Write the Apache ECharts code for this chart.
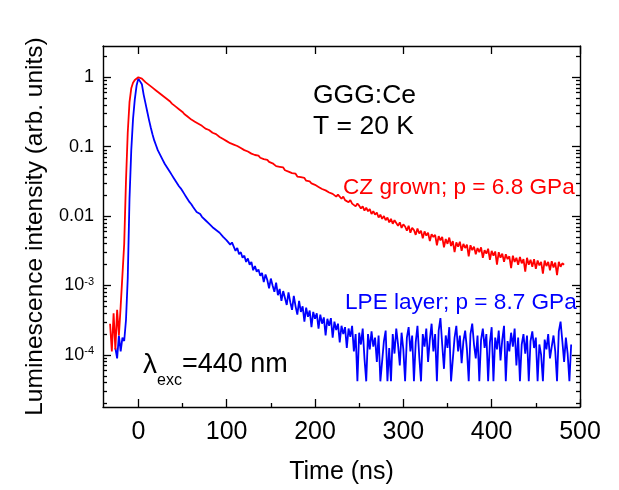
<!DOCTYPE html>
<html><head><meta charset="utf-8">
<script src="https://cdn.jsdelivr.net/npm/echarts@6/dist/echarts.min.js"></script>
<style>html,body{margin:0;padding:0;background:#fff}#c{width:619px;height:490px}</style>
</head><body><div id="c"></div>
<script>
// Time axis of the measurement (ns)
const timeNs = [
-32,-30,-28,-26,-24,-22,-20,-18,-16,-14,
-12,-10,-8,-6,-4,-2,0,2,4,6,
8,10,12,14,16,18,20,22,24,26,
28,30,32,34,36,38,40,42,44,46,
48,50,52,54,56,58,60,62,64,66,
68,70,72,74,76,78,80,82,84,86,
88,90,92,94,96,98,100,102,104,106,
108,110,112,114,116,118,120,122,124,126,
128,130,132,134,136,138,140,142,144,146,
148,150,152,154,156,158,160,162,164,166,
168,170,172,174,176,178,180,182,184,186,
188,190,192,194,196,198,200,202,204,206,
208,210,212,214,216,218,220,222,224,226,
228,230,232,234,236,238,240,242,244,246,
248,250,252,254,256,258,260,262,264,266,
268,270,272,274,276,278,280,282,284,286,
288,290,292,294,296,298,300,302,304,306,
308,310,312,314,316,318,320,322,324,326,
328,330,332,334,336,338,340,342,344,346,
348,350,352,354,356,358,360,362,364,366,
368,370,372,374,376,378,380,382,384,386,
388,390,392,394,396,398,400,402,404,406,
408,410,412,414,416,418,420,422,424,426,
428,430,432,434,436,438,440,442,444,446,
448,450,452,454,456,458,460,462,464,466,
468,470,472,474,476,478,480,482,484,486,488,490
];
// log10 of the normalised intensity (CZ grown crystal, red)
const czGrownLog10 = [
-3.55,-3.95,-3.40,-3.92,-3.35,-3.72,-3.30,-3.32,-2.40,-1.50,
-0.80,-0.36,-0.16,-0.08,-0.04,-0.02,0,0,-0.02,-0.04,
-0.07,-0.09,-0.11,-0.12,-0.15,-0.17,-0.19,-0.21,-0.23,-0.25,
-0.27,-0.29,-0.31,-0.33,-0.35,-0.38,-0.39,-0.42,-0.44,-0.46,
-0.48,-0.50,-0.53,-0.54,-0.57,-0.59,-0.61,-0.62,-0.64,-0.66,
-0.67,-0.69,-0.70,-0.72,-0.74,-0.75,-0.76,-0.78,-0.80,-0.81,
-0.82,-0.84,-0.86,-0.87,-0.89,-0.90,-0.92,-0.92,-0.95,-0.95,
-0.97,-0.98,-0.99,-1.00,-1.02,-1.02,-1.05,-1.05,-1.07,-1.07,
-1.10,-1.09,-1.12,-1.13,-1.13,-1.16,-1.16,-1.18,-1.20,-1.19,
-1.22,-1.23,-1.24,-1.24,-1.28,-1.27,-1.29,-1.31,-1.30,-1.34,
-1.33,-1.36,-1.35,-1.38,-1.40,-1.39,-1.43,-1.42,-1.44,-1.46,
-1.45,-1.49,-1.48,-1.50,-1.53,-1.51,-1.55,-1.54,-1.58,-1.56,
-1.61,-1.59,-1.63,-1.61,-1.66,-1.64,-1.68,-1.66,-1.72,-1.69,
-1.71,-1.75,-1.72,-1.77,-1.75,-1.80,-1.77,-1.82,-1.80,-1.86,
-1.82,-1.85,-1.89,-1.86,-1.92,-1.88,-1.93,-1.90,-1.97,-1.93,
-1.98,-1.95,-2.02,-1.98,-2.04,-2.00,-2.06,-2.02,-2.09,-2.04,
-2.11,-2.06,-2.08,-2.14,-2.09,-2.17,-2.12,-2.15,-2.21,-2.14,
-2.24,-2.17,-2.20,-2.27,-2.18,-2.25,-2.21,-2.32,-2.22,-2.28,
-2.24,-2.36,-2.26,-2.30,-2.27,-2.42,-2.29,-2.35,-2.30,-2.45,
-2.33,-2.40,-2.31,-2.43,-2.36,-2.52,-2.38,-2.44,-2.37,-2.50,
-2.40,-2.46,-2.41,-2.58,-2.42,-2.49,-2.44,-2.55,-2.46,-2.52,
-2.45,-2.60,-2.49,-2.54,-2.47,-2.63,-2.50,-2.57,-2.51,-2.70,
-2.52,-2.60,-2.54,-2.66,-2.55,-2.62,-2.58,-2.75,-2.57,-2.66,
-2.60,-2.70,-2.59,-2.68,-2.62,-2.80,-2.60,-2.70,-2.63,-2.73,
-2.62,-2.76,-2.64,-2.71,-2.66,-2.83,-2.64,-2.72,-2.66,-2.78,
-2.65,-2.74,-2.67,-2.85,-2.66,-2.73,-2.68,-2.70,null,null,null,null
];
// log10 of the normalised intensity (LPE layer, blue)
const lpeLayerLog10 = [
null,null,null,-3.90,-4.05,-3.72,-3.95,-3.75,-3.80,-3.50,
-2.90,-1.75,-1.05,-0.60,-0.32,-0.12,-0.02,0,-0.10,-0.25,
-0.37,-0.49,-0.61,-0.72,-0.82,-0.91,-0.98,-1.05,-1.10,-1.15,
-1.20,-1.25,-1.29,-1.33,-1.37,-1.41,-1.45,-1.49,-1.53,-1.57,
-1.60,-1.64,-1.68,-1.72,-1.76,-1.80,-1.83,-1.87,-1.89,-1.94,
-1.96,-1.97,-2.01,-2.02,-2.06,-2.07,-2.11,-2.10,-2.16,-2.15,
-2.20,-2.21,-2.24,-2.25,-2.30,-2.29,-2.35,-2.33,-2.41,-2.38,
-2.44,-2.50,-2.46,-2.55,-2.52,-2.60,-2.57,-2.66,-2.61,-2.70,
-2.66,-2.78,-2.72,-2.80,-2.77,-2.86,-2.82,-2.95,-2.84,-2.92,
-3.04,-2.90,-3.00,-3.09,-2.96,-3.14,-3.05,-3.22,-3.08,-3.18,
-3.28,-3.10,-3.24,-3.35,-3.15,-3.30,-3.42,-3.22,-3.38,-3.30,
-3.52,-3.32,-3.45,-3.36,-3.60,-3.38,-3.48,-3.40,-3.62,-3.42,
-3.55,-3.46,-3.72,-3.48,-3.58,-3.47,-3.75,-3.52,-3.64,-3.55,
-3.82,-3.58,-3.70,-3.60,-3.90,-3.62,-3.74,-3.58,-3.95,-3.70,
-4.38,-3.68,-3.85,-3.62,-4.05,-4.38,-3.70,-3.92,-3.66,-3.88,
-3.75,-4.10,-3.72,-4.38,-4.38,-3.80,-3.65,-4.38,-3.90,-4.38,
-3.70,-3.98,-3.62,-3.85,-4.15,-3.68,-3.92,-4.38,-3.75,-3.60,
-3.95,-3.72,-4.38,-3.82,-3.58,-4.02,-4.38,-3.70,-3.88,-3.62,
-4.10,-3.78,-3.55,-3.95,-3.70,-4.38,-3.65,-3.47,-3.85,-4.20,
-3.72,-3.90,-3.60,-4.38,-4.38,-3.75,-3.58,-3.95,-3.72,-4.12,
-3.80,-3.65,-3.92,-4.38,-3.70,-3.55,-3.85,-4.05,-3.72,-4.38,
-3.78,-3.62,-3.90,-3.70,-4.38,-3.82,-3.60,-4.38,-3.75,-3.92,
-3.65,-4.08,-3.78,-3.58,-4.38,-3.80,-3.95,-3.68,-3.88,-3.62,
-4.15,-3.75,-4.38,-3.85,-3.70,-3.98,-3.72,-4.38,-3.80,-3.66,
-3.90,-3.75,-4.38,-3.85,-4.00,-4.38,-3.78,-3.92,-3.70,-4.05,
-3.88,-3.72,-3.95,-4.38,-3.66,-3.52,-3.80,-4.10,-3.75,-3.98,-4.38,-3.85
];
const xMajorTicks = [0, 100, 200, 300, 400, 500];
const xMinorTicks = [50, 150, 250, 350, 450];
const yMajorTicks = [1e-4, 1e-3, 0.01, 0.1, 1];
const yTickLabels = ['10{sup|-4}', '10{sup|-3}', '0.01', '0.1', '1'];

const X_MIN = -40, X_MAX = 500;
const Y_MIN = Math.pow(10, -4.75), Y_MAX = Math.pow(10, 0.45);
const yMinorTicks = [];
for (let n = -5; n <= 0; n++) for (let k = 2; k <= 9; k++) {
  const v = k * Math.pow(10, n);
  if (v > Y_MIN && v < Y_MAX) yMinorTicks.push(v);
}
const FONT = '"Liberation Sans", Arial, Helvetica, sans-serif';
const LINE = {color: '#000', width: 1.4};
const TICK = {color: '#000', width: 1.3};

function toData(logs) {
  return timeNs.map((t, i) => [t, logs[i] == null ? '-' : Math.pow(10, logs[i])]);
}
function yLabel(v) {
  for (let i = 0; i < yMajorTicks.length; i++) {
    if (Math.abs(Math.log10(v) - Math.log10(yMajorTicks[i])) < 1e-6) return yTickLabels[i];
  }
  return '';
}
function xAx(pos, ticks, len, extra) {
  return Object.assign({
    type: 'value', min: X_MIN, max: X_MAX, position: pos,
    axisLine: {show: false, onZero: false},
    axisTick: {show: true, inside: true, length: len, customValues: ticks, lineStyle: TICK},
    axisLabel: {show: false}, splitLine: {show: false}
  }, extra || {});
}
function yAx(pos, ticks, len, extra) {
  return Object.assign({
    type: 'log', logBase: 10, min: Y_MIN, max: Y_MAX, position: pos,
    axisLine: {show: false, onZero: false},
    axisTick: {show: true, inside: true, length: len, customValues: ticks, lineStyle: TICK},
    axisLabel: {show: false}, splitLine: {show: false}, minorTick: {show: false}
  }, extra || {});
}

const chart = echarts.init(document.getElementById('c'), null, {renderer: 'canvas'});
chart.setOption({
  animation: false,
  backgroundColor: '#fff',
  grid: {left: 103, right: 39, top: 46, bottom: 77, containLabel: false},
  xAxis: [
    xAx('bottom', xMajorTicks, 8, {
      axisLine: {show: true, onZero: false, lineStyle: LINE},
      axisLabel: {show: true, customValues: xMajorTicks, margin: 13, fontSize: 25, color: '#000', fontFamily: FONT},
      name: 'Time (ns)', nameLocation: 'middle', nameGap: 53,
      nameTextStyle: {fontSize: 25, color: '#000', fontFamily: FONT}
    }),
    xAx('bottom', xMinorTicks, 4),
    xAx('top', xMajorTicks, 8, {axisLine: {show: true, onZero: false, lineStyle: LINE}})
  ],
  yAxis: [
    yAx('left', yMajorTicks, 8, {
      axisLine: {show: true, onZero: false, lineStyle: LINE},
      axisLabel: {
        show: true, customValues: yMajorTicks, margin: 9, fontSize: 18, color: '#000', fontFamily: FONT,
        formatter: yLabel,
        rich: {sup: {fontSize: 11, color: '#000', fontFamily: FONT, verticalAlign: 'top', lineHeight: 18}}
      },
      name: 'Luminescence intensity (arb. units)', nameLocation: 'middle', nameGap: 38, nameRotate: 90,
      nameTextStyle: {fontSize: 24.5, color: '#000', fontFamily: FONT}
    }),
    yAx('left', yMinorTicks, 4),
    yAx('right', yMajorTicks, 8, {axisLine: {show: true, onZero: false, lineStyle: LINE}}),
    yAx('right', yMinorTicks, 4)
  ],
  series: [
    {name: 'CZ grown; p = 6.8 GPa', type: 'line', data: toData(czGrownLog10), showSymbol: false,
     lineStyle: {color: '#ff0000', width: 1.8}, itemStyle: {color: '#ff0000'}, connectNulls: false, z: 3},
    {name: 'LPE layer; p = 8.7 GPa', type: 'line', data: toData(lpeLayerLog10), showSymbol: false,
     lineStyle: {color: '#0000ff', width: 1.8}, itemStyle: {color: '#0000ff'}, connectNulls: false, z: 2}
  ],
  graphic: [
    {type: 'text', x: 313, y: 96, style: {text: 'GGG:Ce', fontSize: 26.5, fontFamily: FONT, fill: '#000', verticalAlign: 'middle'}},
    {type: 'text', x: 313, y: 127, style: {text: 'T = 20 K', fontSize: 26.5, fontFamily: FONT, fill: '#000', verticalAlign: 'middle'}},
    {type: 'text', x: 343, y: 188, style: {text: 'CZ grown; p = 6.8 GPa', fontSize: 22.6, fontFamily: FONT, fill: '#ff0000', verticalAlign: 'middle'}},
    {type: 'text', x: 345, y: 303, style: {text: 'LPE layer; p = 8.7 GPa', fontSize: 22.6, fontFamily: FONT, fill: '#0000ff', verticalAlign: 'middle'}},
    {type: 'text', x: 143, y: 365, style: {
      text: '{l|λ}{s|exc}{n|=440 nm}', verticalAlign: 'middle', fill: '#000', fontFamily: FONT,
      rich: {
        l: {fontSize: 28, fontFamily: FONT, fill: '#000', lineHeight: 48, verticalAlign: 'middle'},
        s: {fontSize: 16, fontFamily: FONT, fill: '#000', lineHeight: 48, verticalAlign: 'bottom'},
        n: {fontSize: 27, fontFamily: FONT, fill: '#000', lineHeight: 48, verticalAlign: 'middle'}
      }}}
  ]
});
</script></body></html>
